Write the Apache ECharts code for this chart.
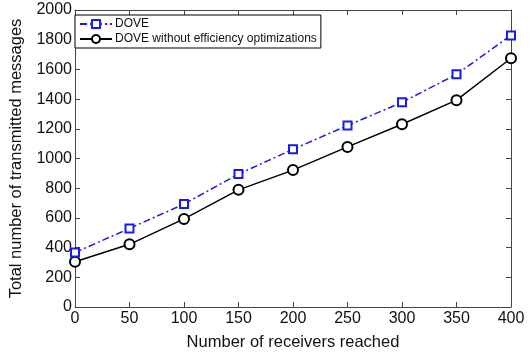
<!DOCTYPE html>
<html><head><meta charset="utf-8">
<script src="https://cdn.jsdelivr.net/npm/echarts@6/dist/echarts.min.js"></script>
<style>html,body{margin:0;padding:0;background:#fff}#c{width:530px;height:356px}</style>
</head><body><div id="c"></div>
<script>
const receivers = [0, 50, 100, 150, 200, 250, 300, 350, 400];
const dove = [367, 529, 693, 895, 1062, 1222, 1378, 1567, 1829];
const doveNoOpt = [305, 422, 593, 789, 922, 1078, 1231, 1393, 1675];
const seriesNames = ['DOVE', 'DOVE without efficiency optimizations'];
const xLabel = 'Number of receivers reached';
const yLabel = 'Total number of transmitted messages';

const font = 'Liberation Sans, Arial, Helvetica, sans-serif';
const axisColor = '#444';
const chart = echarts.init(document.getElementById('c'), null, {renderer: 'canvas'});
const frameAxis = (extra) => Object.assign({
  type: 'value', axisLine: {show: true, onZero: false, lineStyle: {color: axisColor, width: 1}},
  axisTick: {show: true, inside: true, length: 5, lineStyle: {color: axisColor}},
  splitLine: {show: false}, axisLabel: {show: false}
}, extra);
chart.setOption({
  animation: false,
  backgroundColor: '#fff',
  grid: {left: 69, right: 19, top: 10, bottom: 46},
  legend: {
    left: 75, top: 15, orient: 'vertical', itemGap: 3, itemWidth: 32, itemHeight: 10,
    padding: [3, 4, 3, 4], borderColor: '#000', borderWidth: 1, borderRadius: 0, backgroundColor: '#fff',
    textStyle: {fontFamily: font, fontSize: 12, color: '#111', padding: [0, 0, 0, -2]},
    data: seriesNames
  },
  xAxis: [
    frameAxis({position: 'bottom', min: 0, max: 400, interval: 50,
      name: xLabel, nameLocation: 'middle', nameGap: 27,
      nameTextStyle: {fontFamily: font, fontSize: 16.5, color: '#111'},
      axisLabel: {show: true, fontFamily: font, fontSize: 16, color: '#111', margin: 4, showMaxLabel: true,
        formatter: v => String(v)}}),
    frameAxis({position: 'top', min: 0, max: 400, interval: 50})
  ],
  yAxis: [
    frameAxis({position: 'left', min: 0, max: 2000, interval: 200,
      name: yLabel, nameLocation: 'middle', nameGap: 50,
      nameTextStyle: {fontFamily: font, fontSize: 16.5, color: '#111'},
      axisLabel: {show: true, fontFamily: font, fontSize: 16, color: '#111', margin: 3,
        formatter: v => String(v)}}),
    frameAxis({position: 'right', min: 0, max: 2000, interval: 200})
  ],
  series: [
    {name: seriesNames[0], type: 'line', data: receivers.map((x, i) => [x, dove[i]]),
     symbol: 'emptyRect', symbolSize: 8, color: '#1a1aee',
     lineStyle: {color: '#1a1aee', width: 1.5, type: [7, 3, 2, 3]},
     itemStyle: {color: '#1a1aee', borderWidth: 1.5}, z: 3},
    {name: seriesNames[1], type: 'line', data: receivers.map((x, i) => [x, doveNoOpt[i]]),
     symbol: 'emptyCircle', symbolSize: 10, color: '#000',
     lineStyle: {color: '#000', width: 1.5},
     itemStyle: {color: '#000', borderWidth: 1.5}, z: 2}
  ]
});
</script></body></html>
